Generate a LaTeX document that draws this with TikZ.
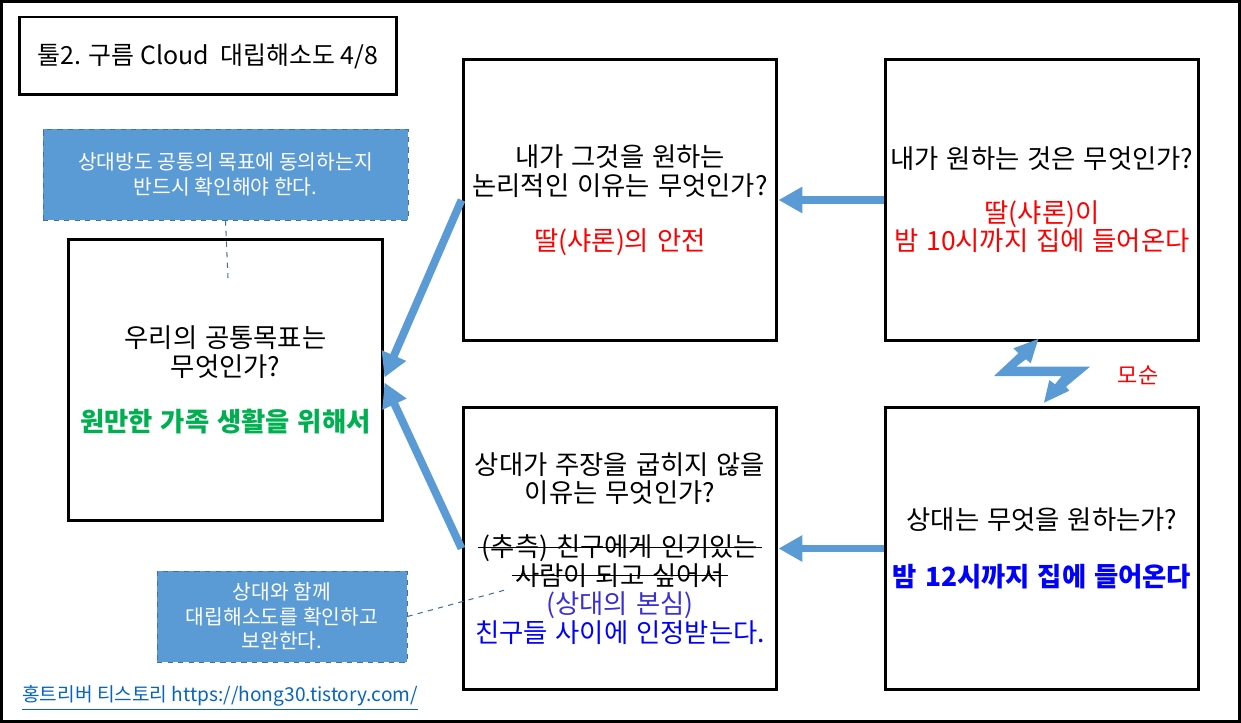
\documentclass[tikz,border=0pt]{standalone}
\usepackage{fontspec}
\setmainfont{Noto Sans CJK KR}
\usetikzlibrary{arrows.meta}
\definecolor{cloudblue}{RGB}{91,155,213}
\definecolor{noteline}{RGB}{65,113,156}
\definecolor{goalgreen}{RGB}{0,176,80}
\definecolor{truecolor}{RGB}{58,48,214}
\definecolor{linkblue}{RGB}{5,99,193}
\newsavebox\strikebox
\newcommand\strikeout[1]{\sbox\strikebox{#1}\rlap{\kern-2pt\rule[0.33em]{\dimexpr\wd\strikebox+4pt}{0.6pt}}\usebox\strikebox}
\newcommand\cloudfont{\fontsize{15}{16.4}\selectfont\spaceskip=0.3em\relax}
\tikzset{
  cloudbox/.style={draw=black,line width=1.7pt,minimum width=6.28cm,minimum height=5.64cm,
    align=center,inner sep=0pt,font=\cloudfont},
  titlebox/.style={draw=black,line width=1.7pt,minimum width=7.56cm,minimum height=1.56cm,
    font=\fontsize{14.2}{16.4}\selectfont},
  notebox/.style={fill=cloudblue,draw=noteline,dashed,line width=0.5pt,minimum height=1.82cm,
    align=center,text=white,font=\fontsize{11.6}{14}\selectfont},
  noteline/.style={draw=noteline,dashed,line width=0.6pt},
  bluearrow/.style={draw=cloudblue,line width=4.5pt,-{Triangle[length=13.6pt,width=14.2pt]}}
}
\begin{document}
\begin{tikzpicture}[x=0.02cm,y=-0.02cm]
  \useasboundingbox (0,0) rectangle (1241,723);
  \draw [line width=2pt] (1.5,1.5) rectangle (1239.5,721.5);
  % title
  \node [titlebox] (title) at (208,56) {툴2. 구름 Cloud\ \ 대립해소도 4/8};
  % the five boxes
  \node [cloudbox,minimum width=6.3cm] (goal) at (225.5,380)
    {우리의 공통목표는\\무엇인가?\\[15pt]{\color{goalgreen}\bfseries 원만한 가족 생활을 위해서}};
  \node [cloudbox] (need) at (620,200)
    {내가 그것을 원하는\\논리적인 이유는 무엇인가?\\[15pt]{\color{red}딸(샤론)의 안전}};
  \node [cloudbox] (want) at (1042,200)
    {내가 원하는 것은 무엇인가?\\[14pt]{\color{red}딸(샤론)이}\\{\color{red}밤 10시까지 집에 들어온다}};
  \node [cloudbox] (reason) at (620,548.5)
    {상대가 주장을 굽히지 않을\\이유는 무엇인가?\\[14pt]\strikeout{(추측) 친구에게 인기있는}\\\strikeout{사람이 되고 싶어서}\\
     {\color{truecolor}(상대의 본심)}\\{\color{blue}친구들 사이에 인정받는다.}};
  \node [cloudbox] (otherwant) at (1042,548.5)
    {상대는 무엇을 원하는가?\\[16pt]{\color{blue}\bfseries 밤 12시까지 집에 들어온다}};
  % notes
  \node [notebox,minimum width=7.3cm] (note1) at (225.5,174.5)
    {상대방도 공통의 목표에 동의하는지\\반드시 확인해야 한다.};
  \node [notebox,minimum width=5cm] (note2) at (282,616.5)
    {상대와 함께\\대립해소도를 확인하고\\보완한다.};
  \coordinate (note1end) at (228,278);
  \coordinate (note2end) at (505,590);
  \draw [noteline] (note1.south) -- (note1end);
  \draw [noteline] (note2.east) -- (note2end);
  % arrows
  \draw [bluearrow] (want.west) -- (need.east);
  \draw [bluearrow] (otherwant.west) -- (reason.east);
  \draw [bluearrow] (need.west) -- ([yshift=0.05cm]goal.east);
  \draw [bluearrow] (reason.west) -- ([yshift=-0.05cm]goal.east);
  % conflict
  \fill [cloudblue] (994,376) -- (1018.3,353.3) -- (1013.3,348.3) -- (1038.3,339) -- (1030.7,363.3)
    -- (1026,359.3) -- (1016,366.7) -- (1090,366.7) -- (1066,386.7) -- (1069.3,390.7)
    -- (1044,402.7) -- (1049.3,380) -- (1055,384.3) -- (1061.7,376) -- cycle;
  \node [text=red,font=\fontsize{12.5}{14}\selectfont] (conflict) at (1138,375) {모순};
  % link
  \node [anchor=west,inner sep=0pt,text=linkblue,font=\fontsize{10.9}{12}\selectfont] (link) at (22,698)
    {\underline{홍트리버 티스토리 https://hong30.tistory.com/}};
\end{tikzpicture}
\end{document}
